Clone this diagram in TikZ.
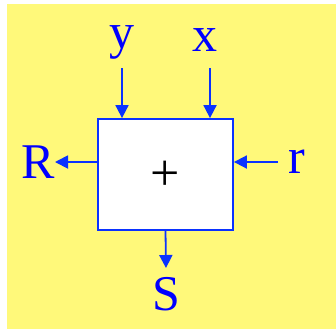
\documentclass[tikz,border=0pt]{standalone}
\usepackage{fontspec}
\setmainfont{Liberation Serif}
\usetikzlibrary{arrows.meta,positioning}
\definecolor{padyellow}{RGB}{255,249,122}
\definecolor{sigblue}{RGB}{10,50,255}

\begin{document}
\begin{tikzpicture}[x=1pt,y=-1pt,
  sig/.style={text=blue,inner sep=0pt,font=\fontsize{50}{50}\selectfont},
  arr/.style={-{Triangle[length=13pt,width=13pt]},line width=1.8pt,sigblue}]
\useasboundingbox (0,0) rectangle (336,330);
\fill[padyellow] (7,4) rectangle (336,329);
\node[draw=sigblue,line width=1.8pt,fill=white,minimum width=135pt,minimum height=111pt,
  text height=31pt,text depth=0pt,font=\fontsize{52}{52}\selectfont] (adder) at (165.5,174.5) {+};
\node[sig] (yin) at (122,42) {y};
\node[sig] (xin) at (205,40) {x};
\node[sig] (rout) at (38,162) {R};
\node[sig] (rin) at (297,162) {r};
\node[sig] (sout) at (166,294) {S};
\coordinate (ytop) at (122,68);
\coordinate (xtop) at (210,68);
\coordinate (rtip) at (55,162);
\coordinate (rtail) at (278,162);
\coordinate (stip) at (166,268);
\draw[arr] (ytop) -- (ytop |- adder.north);
\draw[arr] (xtop) -- (xtop |- adder.north);
\draw[arr] (adder.west |- rtip) -- (rtip);
\draw[arr] (rtail) -- (adder.east |- rtail);
\draw[arr] (adder.south) -- (stip);
\end{tikzpicture}
\end{document}
